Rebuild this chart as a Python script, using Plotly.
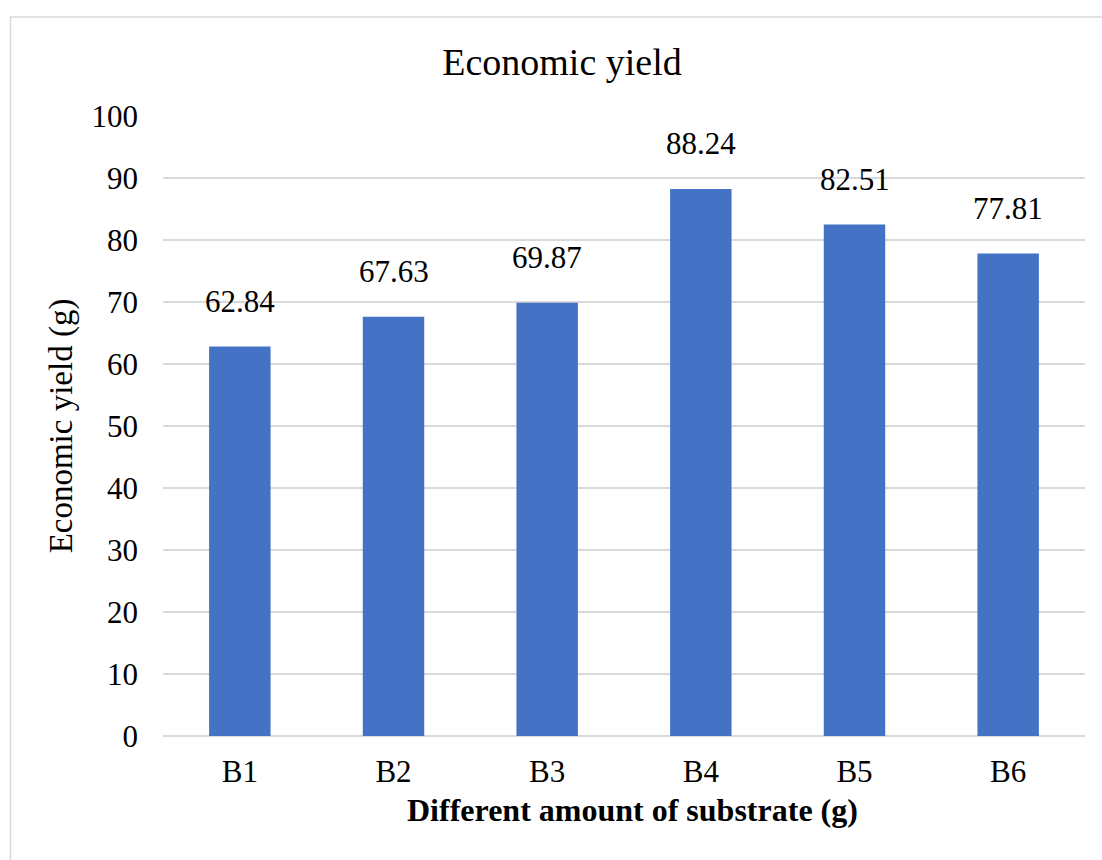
import plotly.graph_objects as go

categories = ["B1", "B2", "B3", "B4", "B5", "B6"]
values = [62.84, 67.63, 69.87, 88.24, 82.51, 77.81]
labels = ["62.84", "67.63", "69.87", "88.24", "82.51", "77.81"]
y_ticks = [0, 10, 20, 30, 40, 50, 60, 70, 80, 90, 100]

FONT = "Liberation Serif"

fig = go.Figure()
fig.add_trace(go.Bar(
    x=categories, y=values,
    marker=dict(color="#4472C4", line=dict(width=0)),
    hoverinfo="skip",
))

for c, v, t in zip(categories, values, labels):
    fig.add_annotation(x=c, y=v, text=t, showarrow=False,
                       yanchor="middle", yshift=45,
                       font=dict(family=FONT, size=31, color="#000000"))

W, H = 1102, 860
L, R, T, B = 163, 17, 116, 124
pw, ph = W - L - R, H - T - B
x0 = (10.5 - L) / pw
y1 = (H - B - 17) / ph

fig.add_shape(type="rect", xref="paper", yref="paper",
              x0=x0, x1=1.2, y0=-0.5, y1=y1,
              line=dict(color="#d9d9d9", width=1.5), fillcolor="rgba(0,0,0,0)",
              layer="below")

# x-axis title (Excel centres it slightly right of the plot centre)
fig.add_annotation(xref="paper", yref="paper",
                   x=(632 - L) / pw, y=(H - B - 810) / ph,
                   xanchor="center", yanchor="middle", showarrow=False,
                   text="<b>Different amount of substrate (g)</b>",
                   font=dict(family=FONT, size=32, color="#000000"))

fig.update_layout(
    width=W, height=H,
    margin=dict(l=L, r=R, t=T, b=B, autoexpand=False),
    paper_bgcolor="white", plot_bgcolor="white",
    bargap=0.6,
    showlegend=False,
    font=dict(family=FONT, color="#000000"),
    title=dict(text="Economic yield", x=0.51, xanchor="center",
               y=1 - 62 / H, yanchor="middle", yref="container",
               font=dict(family=FONT, size=38, color="#000000")),
    xaxis=dict(
        showgrid=False, showline=False, zeroline=False,
        ticks="", tickfont=dict(family=FONT, size=31, color="#000000"),
        ticklabelstandoff=14,
        fixedrange=True,
    ),
    yaxis=dict(
        range=[0, 100], tickvals=y_ticks, ticktext=[str(v) for v in y_ticks],
        showgrid=True, gridcolor="#d9d9d9", gridwidth=1.5,
        zeroline=True, zerolinecolor="#d9d9d9", zerolinewidth=1.5,
        showline=False, ticks="",
        tickfont=dict(family=FONT, size=31, color="#000000"),
        ticklabelstandoff=24,
        title=dict(text="Economic yield (g)", standoff=8,
                   font=dict(family=FONT, size=33, color="#000000")),
        fixedrange=True,
    ),
)

fig.write_html("out.html")
